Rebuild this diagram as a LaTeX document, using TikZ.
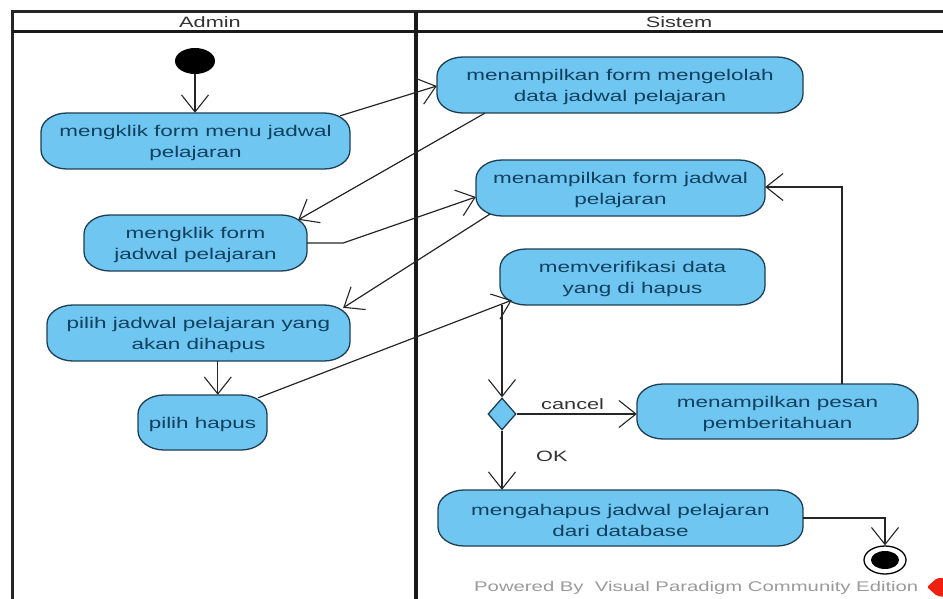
\documentclass[tikz,border=0pt]{standalone}
\usepackage{fontspec}
\setmainfont[FakeStretch=1.45]{Liberation Sans}
\usetikzlibrary{arrows.meta,shapes.geometric,calc}
\definecolor{actfill}{HTML}{6EC6F1}
\definecolor{actline}{HTML}{1E3F52}
\definecolor{acttext}{HTML}{12405F}
\definecolor{wm}{HTML}{9A9A9A}
\tikzset{
  act/.style={align=center,text=acttext,inner sep=0pt,font=\fontsize{15.5}{21}\selectfont,anchor=center},
  actbg/.style={draw=actline,fill=actfill,line width=1.3pt},
  flowline/.style={draw=black!85,line width=1.2pt,-{Straight Barb[length=17pt,width=27pt,line width=1.1pt]}},
  lanetext/.style={font=\fontsize{15}{18}\selectfont,text=black!80,inner sep=0pt},
  lbl/.style={font=\fontsize{15}{18}\selectfont,text=black!80,inner sep=0pt},
}
% name, cx, cy, w, h, text: a rounded box with the reference's elliptical corners
\newcommand{\actbox}[6]{%
  \draw[actbg] ({#2-#4/2},{#3-#5/2+19}) arc[start angle=180,end angle=90,x radius=26pt,y radius=19pt]
    -- ({#2+#4/2-26},{#3-#5/2}) arc[start angle=90,end angle=0,x radius=26pt,y radius=19pt]
    -- ({#2+#4/2},{#3+#5/2-19}) arc[start angle=0,end angle=-90,x radius=26pt,y radius=19pt]
    -- ({#2-#4/2+26},{#3+#5/2}) arc[start angle=-90,end angle=-180,x radius=26pt,y radius=19pt] -- cycle;
  \node[act,minimum width=#4pt,minimum height=#5pt] (#1) at (#2,#3) {\rule{0pt}{16pt}#6};}
\begin{document}
\begin{tikzpicture}[x=1pt,y=-1pt]
\useasboundingbox (0,0) rectangle (943,599);
% swimlanes
\coordinate (tl) at (12,12); \coordinate (tr) at (943,12);
\coordinate (bl) at (12,599); \coordinate (hl) at (12,32); \coordinate (hr) at (943,32);
\coordinate (dt) at (416,12); \coordinate (db) at (416,599);
\draw[line width=3pt,draw=black!85] (bl) -- (tl) -- (tr);
\draw[line width=3pt,draw=black!90] (hl) -- (hr);
\draw[line width=4pt,draw=black!90] (dt) -- (db);
\node[lanetext] (adminlbl) at (210,22) {Admin};
\node[lanetext] (sistemlbl) at (679,22) {Sistem};
% nodes
\node[ellipse,fill=black,minimum width=40pt,minimum height=26pt,inner sep=0pt] (start) at (195,61) {};
\actbox{a1}{195.5}{141}{309}{56}{mengklik form menu jadwal\\pelajaran}
\actbox{a2}{195.5}{243}{223}{56}{mengklik form\\jadwal pelajaran}
\actbox{a3}{198.5}{333}{303}{56}{pilih jadwal pelajaran yang\\akan dihapus}
\actbox{a4}{202.5}{422.5}{129}{55}{pilih hapus}
\actbox{s1}{620}{85}{366}{56}{menampilkan form mengelolah\\data jadwal pelajaran}
\actbox{s2}{620.5}{188}{289}{56}{menampilkan form jadwal\\pelajaran}
\actbox{s3}{632.5}{277}{265}{56}{memverifikasi data\\yang di hapus}
\actbox{s4}{777.5}{411.5}{281}{55}{menampilkan pesan\\pemberitahuan}
\actbox{s5}{620.5}{518}{365}{56}{mengahapus jadwal pelajaran\\dari database}
\node[diamond,draw=actline,fill=actfill,line width=1.3pt,minimum width=28pt,minimum height=32pt,inner sep=0pt] (dec) at (502,414) {};
\node[ellipse,draw=black,fill=white,line width=1.3pt,minimum width=42pt,minimum height=28pt,inner sep=0pt] (endo) at (885,560) {};
\node[ellipse,fill=black,minimum width=28pt,minimum height=18pt,inner sep=0pt] (endi) at (885,560) {};
% connectors
\draw[flowline] (start) -- (a1.north -| start);
\draw[flowline] ($(a1.north east)+(-10,3)$) -- ($(s1.west)+(0,1)$);
\draw[flowline] ($(s1.south west)+(48,0)$) -- ($(a2.north east)+(-9,5)$);
\draw[flowline] (a2.east) -- ++(36,0) -- ($(s2.west)+(0,9)$);
\draw[flowline] ($(s2.south west)+(14,-2)$) -- ($(a3.north east)+(-7,3)$);
\draw[flowline] ($(a3.south west)+(171,0)$) -- ($(a4.north west)+(80,0)$);
\draw[flowline] ($(a4.north east)+(-9,3)$) -- ($(s3.south west)+(12,-5)$);
\draw[flowline] (s3.south -| dec) -- (dec.north);
\draw[flowline] (dec.east) -- (s4.west |- dec);
\draw[flowline] (dec.south) -- (s5.north -| dec);
\draw[flowline] (s4.north -| 842,0) -- (842,187) -- (s2.east |- 842,187);
\draw[flowline] (s5.east) -- (s5.east -| endo) -- (endo.north);
% labels
\node[lbl,anchor=base west] (cancel) at (541,409) {cancel};
\node[lbl,anchor=base west] (ok) at (536,461) {OK};
\node[anchor=base west,inner sep=0pt,text=wm,font=\fontsize{14}{16}\selectfont] (wmark) at (474,591) {Powered By\ \ Visual Paradigm Community Edition};
\fill[red!75!brown,rounded corners=2pt] (927,587) -- (937,578) -- (946,578) -- (946,597) -- (937,596) -- cycle;
\end{tikzpicture}
\end{document}
